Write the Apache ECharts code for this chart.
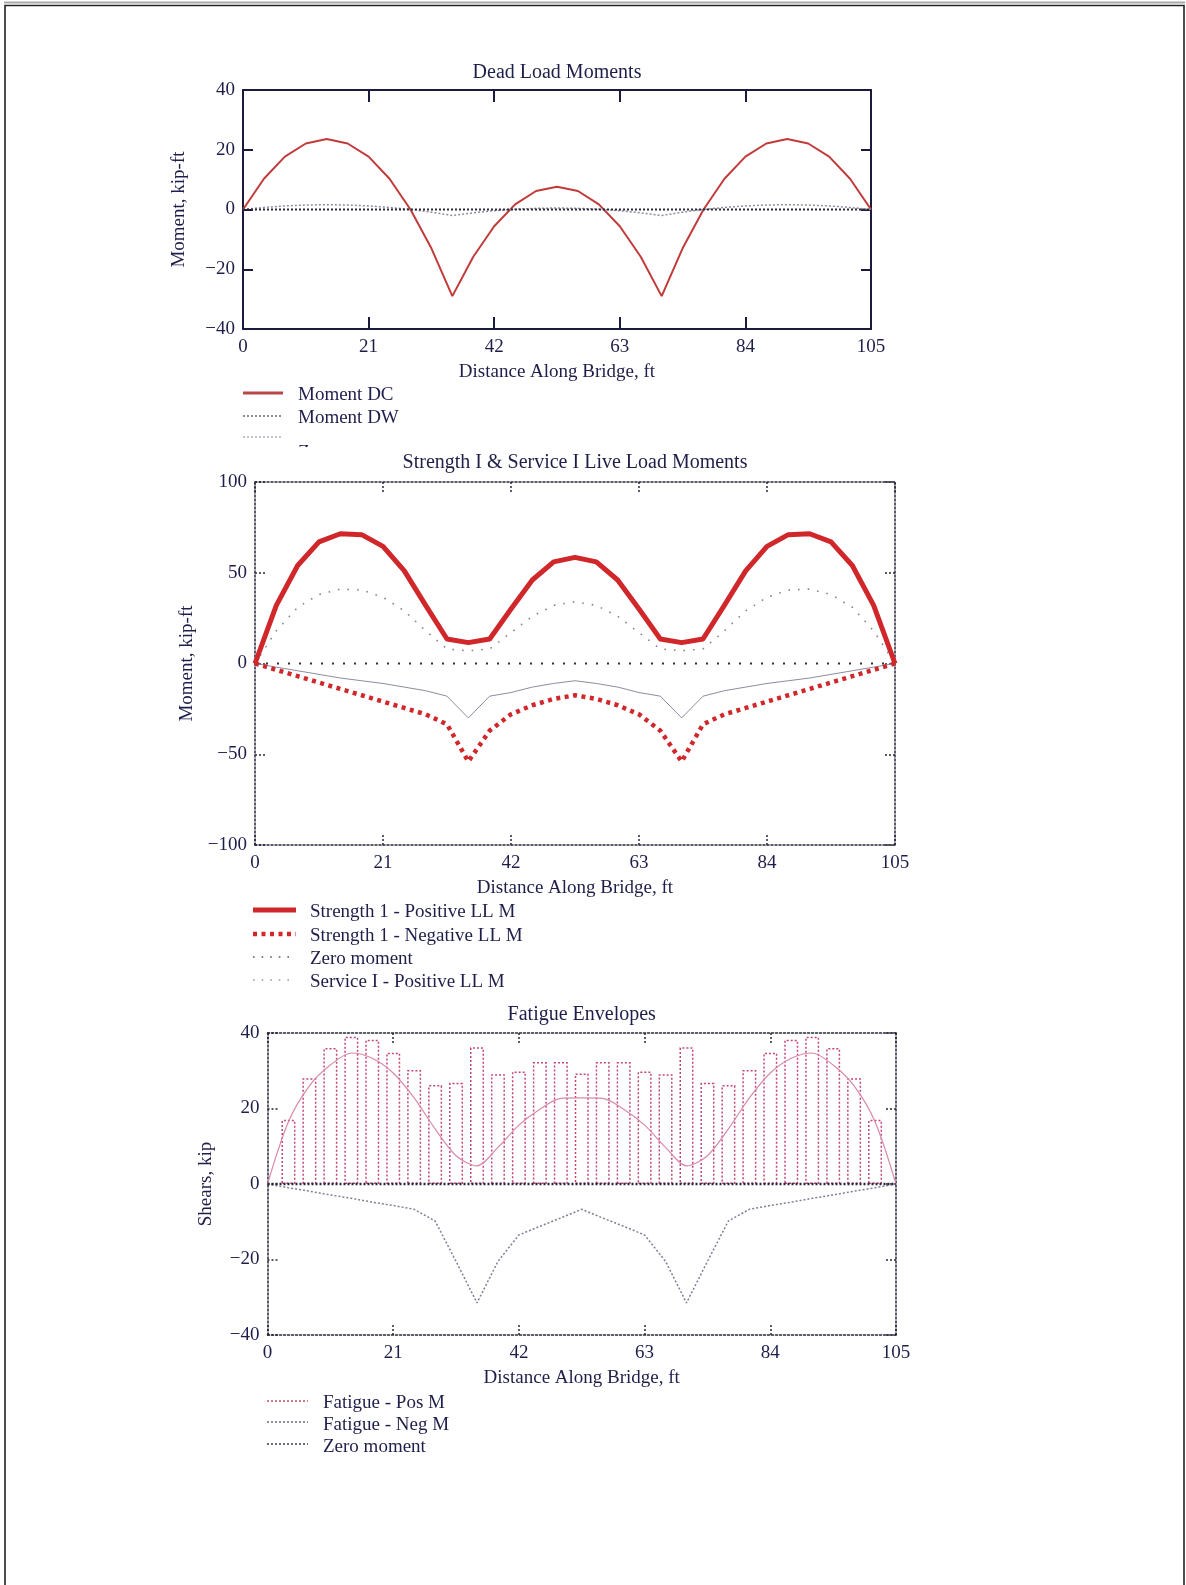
<!DOCTYPE html>
<html><head><meta charset="utf-8">
<script src="https://cdn.jsdelivr.net/npm/echarts@6/dist/echarts.min.js"></script>
<style>html,body{margin:0;padding:0;background:#fff}#c{width:1186px;height:1585px}</style>
</head><body><div id="c"></div>
<script>
// ---------- data ----------
const xFt = [0,3.5,7,10.5,14,17.5,21,24.5,28,31.5,35,38.5,42,45.5,49,52.5,56,59.5,63,66.5,70,73.5,77,80.5,84,87.5,91,94.5,98,101.5,105];
const xTickLabels = [0,21,42,63,84,105];
// Dead load moments (kip-ft)
const momentDC = [0,10.3,17.7,22.1,23.6,22.1,17.7,10.3,0,-13,-29,-15.8,-5.6,1.7,6.2,7.6,6.2,1.7,-5.6,-15.8,-29,-13,0,10.3,17.7,22.1,23.6,22.1,17.7,10.3,0];
const momentDW = [0,0.7,1.2,1.5,1.6,1.5,1.2,0.7,0,-0.9,-2,-1.1,-0.4,0.1,0.4,0.5,0.4,0.1,-0.4,-1.1,-2,-0.9,0,0.7,1.2,1.5,1.6,1.5,1.2,0.7,0];
const zeroX = [0,105];
const zeroY = [0,0];
// Live load moments (kip-ft)
const strengthPos = [0,32,54,67,71.5,71,64.5,51,32,13.5,11.5,13.5,30,46,56,58.5,56,46,30,13.5,11.5,13.5,32,51,64.5,71,71.5,67,54,32,0];
const strengthNeg = [0,-3.5,-7,-10.5,-14,-17.5,-21,-24.5,-28,-33.5,-54,-37,-28,-23,-19.5,-17.5,-19.5,-23,-28,-37,-54,-33.5,-28,-24.5,-21,-17.5,-14,-10.5,-7,-3.5,0];
const servicePos = [0,18,31,38,41,40.5,36.5,29,18,8,7,8,17,26,32,34,32,26,17,8,7,8,18,29,36.5,40.5,41,38,31,18,0];
const serviceNeg = [0,-2,-4,-6,-8,-9.5,-11,-13,-15,-18,-30,-18,-16,-13,-11,-9.5,-11,-13,-16,-18,-30,-18,-15,-13,-11,-9.5,-8,-6,-4,-2,0];
// Fatigue envelopes (kip)
const barX = [3.5,7,10.5,14,17.5,21,24.5,28,31.5,35,38.5,42,45.5,49,52.5,56,59.5,63,66.5,70,73.5,77,80.5,84,87.5,91,94.5,98,101.5];
const fatigueBars = [17,28,36,39,38.2,34.8,30.2,26.2,26.8,36.2,29.1,29.8,32.3,32.3,29.3,32.3,32.3,29.8,29.1,36.2,26.8,26.2,30.2,34.8,38.2,39,36,28,17];
const fatiguePos = [0,16.5,26,31.5,34.7,33.3,29.4,22.8,14.6,7.5,4.8,9.7,15.6,19.8,22.7,22.8,22.7,19.8,15.6,9.7,4.8,7.5,14.6,22.8,29.4,33.3,34.7,31.5,26,16.5,0];
const fatigueNeg = [0,-1,-1.9,-2.9,-3.8,-4.8,-5.7,-6.7,-9.8,-20.5,-31.5,-20.5,-13.5,-11.2,-9,-6.7,-9,-11.2,-13.5,-20.5,-31.5,-20.5,-9.8,-6.7,-5.7,-4.8,-3.8,-2.9,-1.9,-1,0];

const chartTitles = ['Dead Load Moments','Strength I & Service I Live Load Moments','Fatigue Envelopes'];
const yNames = ['Moment, kip-ft','Moment, kip-ft','Shears, kip'];
const xName = 'Distance Along Bridge, ft';
const yRanges = [[-40,40,20],[-100,100,50],[-40,40,20]];

// ---------- styling / layout ----------
const C = '#1e1e4a';
const FF = '"Liberation Serif", "Times New Roman", serif';
const fmtY = v => (v < 0 ? '\u2212' + Math.abs(v) : String(v));
const pairs = (xs, ys) => xs.map((x, i) => [x, ys[i]]);

const grids = [
  {left:243, top:90, width:628, height:239},
  {left:255, top:482, width:640, height:363},
  {left:267.5, top:1033, width:628.5, height:302}
];
const frames = [
  {color:'#1a1a3c', width:2, type:'solid'},
  {color:'#26263a', width:1.5, type:[2,2]},
  {color:'#26263a', width:1.5, type:[2,2]}
];
const titleTops = [63, 453, 1005];
const yNameGaps = [54, 48, 52];

const xAxis = [], yAxis = [], title = [];
for (let g = 0; g < 3; g++) {
  const fr = frames[g];
  ['bottom','top'].forEach(pos => {
    xAxis.push({
      type:'value', gridIndex:g, position:pos, min:0, max:105, interval:21,
      axisLine:{show:true, onZero:false, lineStyle:fr},
      axisTick:{show:true, inside:true, length:12, lineStyle:fr},
      splitLine:{show:false},
      axisLabel:{show:pos === 'bottom', margin:9, color:C, fontFamily:FF, fontSize:19,
        formatter: v => (xTickLabels.indexOf(v) >= 0 ? String(v) : '')},
      name: pos === 'bottom' ? xName : '',
      nameLocation:'middle', nameGap:34,
      nameTextStyle:{color:C, fontFamily:FF, fontSize:19}
    });
  });
  ['left','right'].forEach(pos => {
    yAxis.push({
      type:'value', gridIndex:g, position:pos,
      min:yRanges[g][0], max:yRanges[g][1], interval:yRanges[g][2],
      axisLine:{show:true, onZero:false, lineStyle:fr},
      axisTick:{show:true, inside:true, length:10, lineStyle:fr},
      splitLine:{show:false},
      axisLabel:{show:pos === 'left', margin:8, color:C, fontFamily:FF, fontSize:19, formatter:fmtY},
      name: pos === 'left' ? yNames[g] : '',
      nameLocation:'middle', nameGap:yNameGaps[g], nameRotate:90,
      nameTextStyle:{color:C, fontFamily:FF, fontSize:19}
    });
  });
  title.push({
    text:chartTitles[g], left:grids[g].left + grids[g].width / 2, top:titleTops[g],
    textAlign:'center', padding:0, z:10,
    textStyle:{color:C, fontFamily:FF, fontSize:20, fontWeight:'normal'}
  });
}

const line = (name, g, xs, ys, ls, extra) => Object.assign({
  name, type:'line', xAxisIndex:2 * g, yAxisIndex:2 * g,
  data:pairs(xs, ys), symbol:'none', showSymbol:false,
  lineStyle:ls, itemStyle:{color:ls.color}, z:3
}, extra || {});

const RED = '#d0282a';
const series = [
  // chart 1
  line('Moment DC', 0, xFt, momentDC, {color:'#c23b3b', width:2}),
  line('Moment DW', 0, xFt, momentDW, {color:'#8c8c9c', width:1.5, type:[2,2]}),
  line('Zero moment', 0, zeroX, zeroY, {color:'#2a2a3a', width:2, type:[2,2]}),
  // chart 2
  line('Service I - Negative LL M', 1, xFt, serviceNeg, {color:'#8c8ca2', width:1}),
  line('Service I - Positive LL M', 1, xFt, servicePos, {color:'#85859a', width:1.6, type:[1.6,8]}),
  line('Zero moment', 1, zeroX, zeroY, {color:'#30303c', width:2, type:[2,9]}),
  line('Strength 1 - Negative LL M', 1, xFt, strengthNeg, {color:RED, width:4.5, type:[4,4.5]}),
  line('Strength 1 - Positive LL M', 1, xFt, strengthPos, {color:RED, width:5, join:'round'}),
  // chart 3
  {name:'Fatigue bars', type:'bar', xAxisIndex:4, yAxisIndex:4, data:pairs(barX, fatigueBars),
   barWidth:14, z:2,
   itemStyle:{color:'rgba(0,0,0,0)', borderColor:'#c2457a', borderWidth:1.5, borderType:[2,2]}},
  line('Fatigue - Pos M', 2, xFt, fatiguePos, {color:'#d88aa8', width:1.2}, {smooth:0.3}),
  line('Fatigue - Neg M', 2, xFt, fatigueNeg, {color:'#7f7f99', width:1.5, type:[2,2]}),
  line('Zero moment', 2, zeroX, zeroY, {color:'#26263a', width:2.5, type:[2,2]})
];

// ---------- legends (drawn below each plot) ----------
const legendRows = [
  // chart 1
  {x1:243, x2:283, tx:298, sy:393, ty:395, text:'Moment DC', stroke:'#b84848', w:3, dash:null},
  {x1:243, x2:283, tx:298, sy:416, ty:418, text:'Moment DW', stroke:'#6a6a80', w:1.5, dash:[2,2]},
  {x1:243, x2:283, tx:298, sy:437, ty:453, text:'Zero moment', stroke:'#b0b0bc', w:1.5, dash:[2,2]},
  // chart 2
  {x1:253, x2:296, tx:310, sy:910, ty:912, text:'Strength 1 - Positive LL M', stroke:RED, w:5, dash:null},
  {x1:253, x2:296, tx:310, sy:934, ty:936, text:'Strength 1 - Negative LL M', stroke:RED, w:4.5, dash:[4,4.5]},
  {x1:253, x2:296, tx:310, sy:957, ty:959, text:'Zero moment', stroke:'#55556a', w:1.6, dash:[1.6,7]},
  {x1:253, x2:296, tx:310, sy:980, ty:982, text:'Service I - Positive LL M', stroke:'#9a9aaa', w:1.6, dash:[1.6,7]},
  // chart 3
  {x1:267, x2:308, tx:323, sy:1401, ty:1403, text:'Fatigue - Pos M', stroke:'#c0505e', w:1.5, dash:[2,2]},
  {x1:267, x2:308, tx:323, sy:1422, ty:1425, text:'Fatigue - Neg M', stroke:'#6a6a88', w:1.5, dash:[2,2]},
  {x1:267, x2:308, tx:323, sy:1444, ty:1447, text:'Zero moment', stroke:'#3a3a4a', w:1.5, dash:[2,2]}
];
const graphic = [
  {type:'line', z:1, shape:{x1:4, y1:2.5, x2:1185, y2:2.5}, style:{stroke:'#a8a8a8', lineWidth:2}},
  {type:'polyline', z:1, shape:{points:[[5,1585],[5,5.5],[1184,5.5],[1184,1585]]}, style:{stroke:'#222', lineWidth:1.6, fill:null}}
];
legendRows.forEach(r => {
  graphic.push({type:'line', z:1, shape:{x1:r.x1, y1:r.sy, x2:r.x2, y2:r.sy},
    style:{stroke:r.stroke, lineWidth:r.w, lineDash:r.dash || null}});
  graphic.push({type:'text', z:1, x:r.tx, y:r.ty,
    style:{text:r.text, fill:C, font:'19px ' + FF, align:'left', verticalAlign:'middle'}});
});
// the third legend row of the first chart is clipped by the next plot region (title stays above)
graphic.push({type:'rect', z:5, shape:{x:290, y:447, width:130, height:24}, style:{fill:'#fff'}});

const chart = echarts.init(document.getElementById('c'), null, {renderer:'canvas'});
chart.setOption({
  animation:false,
  backgroundColor:'#fff',
  title, grid:grids, xAxis, yAxis, series, graphic
});
</script>
</body></html>
